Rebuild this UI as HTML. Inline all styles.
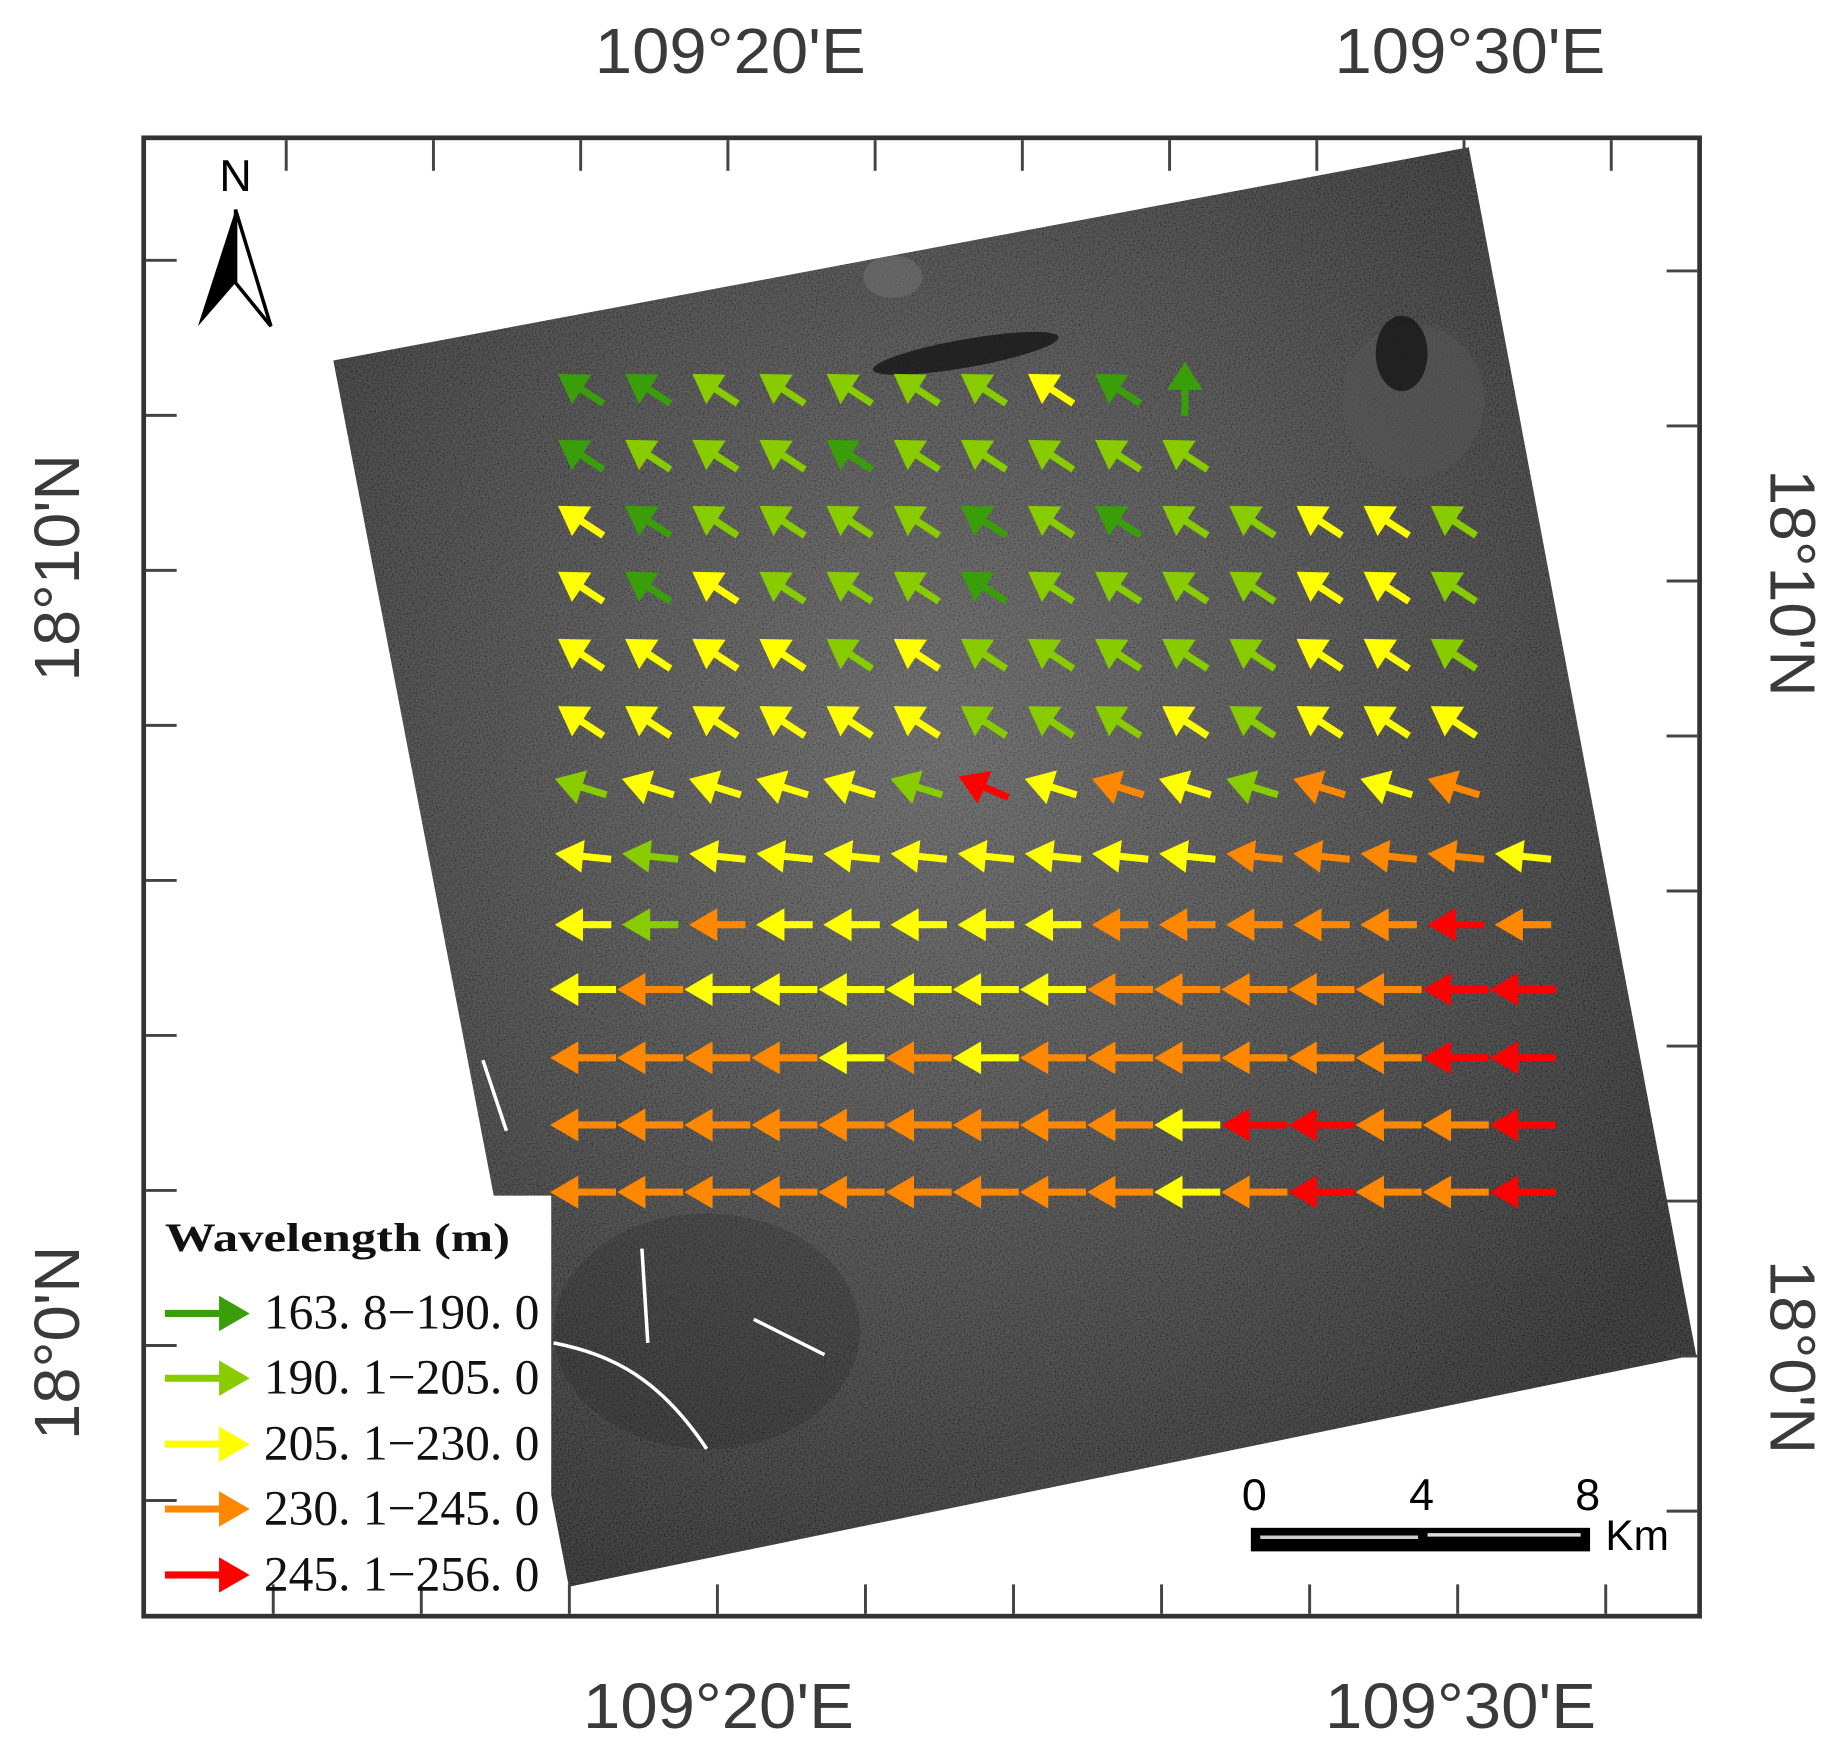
<!DOCTYPE html>
<html><head><meta charset="utf-8"><style>
html,body{margin:0;padding:0;background:#fff;}
svg{display:block;}
</style></head><body>
<svg id="s" width="1848" height="1754" viewBox="0 0 1569 1489" preserveAspectRatio="none" xmlns="http://www.w3.org/2000/svg">
<defs>
<filter id="nz" x="0" y="0" width="100%" height="100%">
<feTurbulence type="fractalNoise" baseFrequency="0.75" numOctaves="1" seed="3" result="t"/>
<feColorMatrix type="matrix" values="2 0 0 0 -0.5  2 0 0 0 -0.5  2 0 0 0 -0.5  0 0 0 0 1" in="t"/>
</filter>
<radialGradient id="rg" cx="0.45" cy="0.42" r="0.6">
<stop offset="0" stop-color="#5c5c5c"/><stop offset="0.55" stop-color="#3c3c3c"/><stop offset="1" stop-color="#222"/>
</radialGradient>
<clipPath id="cp"><polygon points="283,306 1247,125 1440,1150 483,1347"/></clipPath>
</defs>
<rect width="1569" height="1489" fill="#fff"/>
<g clip-path="url(#cp)">
<rect x="250" y="100" width="1220" height="1270" fill="url(#rg)"/>
<rect x="250" y="100" width="1220" height="1270" filter="url(#nz)" opacity="0.18"/>
<ellipse cx="820" cy="300" rx="80" ry="12" fill="#151515" opacity="0.8" transform="rotate(-10 820 300)"/>
<ellipse cx="1200" cy="340" rx="60" ry="65" fill="#555" opacity="0.6"/>
<ellipse cx="1190" cy="300" rx="22" ry="32" fill="#151515" opacity="0.8"/>
<ellipse cx="758" cy="235" rx="25" ry="18" fill="#707070" opacity="0.6"/>
<ellipse cx="600" cy="1130" rx="130" ry="100" fill="#1a1a1a" opacity="0.2"/>
<path d="M470,1140 C520,1150 560,1170 600,1230 M545,1060 L550,1140 M640,1120 L700,1150 M410,900 L430,960" stroke="#fff" stroke-width="3" fill="none"/>
</g>
<rect x="122" y="1015" width="346" height="357" fill="#fff"/>
<g id="arrows"></g>
<rect x="122" y="117" width="1321" height="1255" fill="none" stroke="#333" stroke-width="4"/>
<g stroke="#444" stroke-width="2.5" id="ticks"></g>
<g font-family="Liberation Sans, sans-serif" font-size="54" fill="#3a3a3a" text-anchor="middle">
<text x="620" y="62" textLength="230" lengthAdjust="spacingAndGlyphs">109°20'E</text>
<text x="1248" y="62" textLength="230" lengthAdjust="spacingAndGlyphs">109°30'E</text>
<text x="610" y="1467" textLength="230" lengthAdjust="spacingAndGlyphs">109°20'E</text>
<text x="1240" y="1467" textLength="230" lengthAdjust="spacingAndGlyphs">109°30'E</text>
<text transform="translate(67,482) rotate(-90)" textLength="193" lengthAdjust="spacingAndGlyphs">18°10'N</text>
<text transform="translate(67,1140) rotate(-90)" textLength="165" lengthAdjust="spacingAndGlyphs">18°0'N</text>
<text transform="translate(1503,495) rotate(90)" textLength="193" lengthAdjust="spacingAndGlyphs">18°10'N</text>
<text transform="translate(1503,1152) rotate(90)" textLength="165" lengthAdjust="spacingAndGlyphs">18°0'N</text>
</g>
<text x="200" y="162" font-family="Liberation Sans, sans-serif" font-size="38" text-anchor="middle" fill="#000">N</text>
<polygon points="200,178 168,277 200,240" fill="#000"/>
<polygon points="200,178 230,277 200,240" fill="#fff" stroke="#000" stroke-width="3"/>
<g font-family="Liberation Serif, serif" fill="#111">
<text x="140" y="1062" font-size="34" font-weight="bold" textLength="293" lengthAdjust="spacingAndGlyphs">Wavelength (m)</text>
<g font-size="42">
<text x="224" y="1128" textLength="234" lengthAdjust="spacingAndGlyphs">163. 8−190. 0</text>
<text x="224" y="1183" textLength="234" lengthAdjust="spacingAndGlyphs">190. 1−205. 0</text>
<text x="224" y="1239" textLength="234" lengthAdjust="spacingAndGlyphs">205. 1−230. 0</text>
<text x="224" y="1294" textLength="234" lengthAdjust="spacingAndGlyphs">230. 1−245. 0</text>
<text x="224" y="1350" textLength="234" lengthAdjust="spacingAndGlyphs">245. 1−256. 0</text>
</g>
</g>
<g id="leg"></g>
<g font-family="Liberation Sans, sans-serif" font-size="38" fill="#000" text-anchor="middle">
<text x="1065" y="1282">0</text><text x="1207" y="1282">4</text><text x="1348" y="1282">8</text>
<text x="1390" y="1316" font-size="36">Km</text>
</g>
<rect x="1062" y="1297" width="288" height="20" fill="#000"/>
<line x1="1070" y1="1305" x2="1204" y2="1305" stroke="#ccc" stroke-width="3"/>
<line x1="1212" y1="1303" x2="1342" y2="1303" stroke="#ddd" stroke-width="3"/>
</svg>
<script>
var NS="http://www.w3.org/2000/svg";
var C={G:"#3a9e0a",L:"#88cc00",Y:"#ffff00",O:"#ff8800",R:"#ff0000"};
function arrow(g,cx,cy,ang,L,col,hw,hl,sw){
 var dx=Math.cos(ang),dy=Math.sin(ang),px=-dy,py=dx;
 var tx=cx+dx*L/2,ty=cy+dy*L/2,bx=cx-dx*L/2,by=cy-dy*L/2;
 var hx=tx-dx*hl,hy=ty-dy*hl;
 var l=document.createElementNS(NS,"line");
 l.setAttribute("x1",bx);l.setAttribute("y1",by);l.setAttribute("x2",hx+dx*2);l.setAttribute("y2",hy+dy*2);
 l.setAttribute("stroke",col);l.setAttribute("stroke-width",sw);g.appendChild(l);
 var p=document.createElementNS(NS,"polygon");
 p.setAttribute("points",tx+","+ty+" "+(hx+px*hw/2)+","+(hy+py*hw/2)+" "+(hx-px*hw/2)+","+(hy-py*hw/2));
 p.setAttribute("fill",col);g.appendChild(p);
}
var rows=["GGLLLLLYGG","GLLLGLLLLL","YGLLLLGLGLLYYL","YGYLLLGLLLLYYL","YYYYLYLLLLLYYL","YYYYYYLLLYLYYY","LYYYYLRYOYLOYO","YLYYYYYYYYOOOOY","YLOYYYYYOOOOORO","YOYYYYYYOOOOORR","OOOOYOYOOOOOORR","OOOOOOOOOYRROOR","OOOOOOOOOYOROOR"];
var ry=[330,386,442,498,555,612,668,727,785,840,898,955,1012];
var g=document.getElementById("arrows");
for(var r=0;r<rows.length;r++){for(var c=0;c<rows[r].length;c++){
 var cx=493+57*c,cy=ry[r],col=C[rows[r][c]];
 if(r<=6){
  var a=Math.PI+0.58;
  if(r==0&&c==9)a=-Math.PI/2;
  if(r==6)a=(c==6)?Math.PI+0.4:Math.PI+0.3;
  arrow(g,cx,cy,a,46,col,30,24,6);
 } else {
  var L=r<9?48:56;
  arrow(g,cx+2,cy,r==7?Math.PI+0.1:Math.PI,L,col,28,24,6);
 }
}}
var lg=document.getElementById("leg"),ly=[1115,1170,1226,1281,1337],lc="GLYOR";
for(var i=0;i<5;i++)arrow(lg,176,ly[i],0,72,C[lc[i]],30,26,6);
var tk=document.getElementById("ticks");
function ln(a,b,c,d){var l=document.createElementNS(NS,"line");l.setAttribute("x1",a);l.setAttribute("y1",b);l.setAttribute("x2",c);l.setAttribute("y2",d);tk.appendChild(l);}
for(var x=243;x<1440;x+=125)ln(x,119,x,145);
for(var x=232;x<1440;x+=125.7)ln(x,1345,x,1370);
for(var y=221;y<1370;y+=131.6)ln(124,y,150,y);
for(var y=230;y<1370;y+=131.6)ln(1415,y,1441,y);
</script>
</body></html>
